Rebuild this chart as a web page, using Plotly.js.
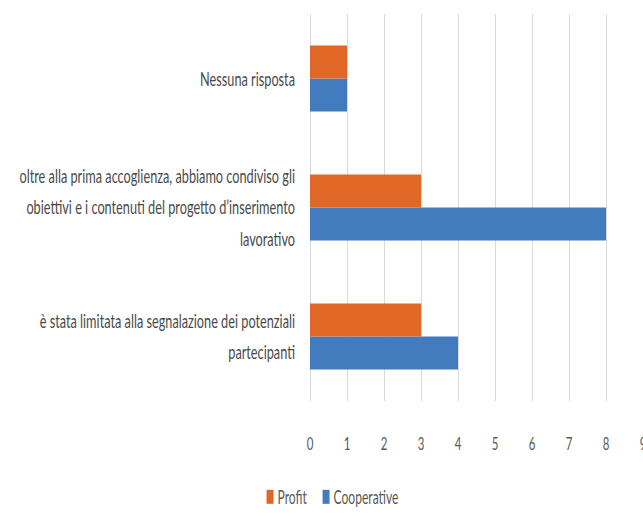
<!DOCTYPE html>
<html>
<head>
<meta charset="utf-8">
<script src="https://cdn.plot.ly/plotly-3.0.1.min.js"></script>
<style>html,body{margin:0;padding:0;background:#fff;}#chart{width:643px;height:516px;}</style>
</head>
<body>
<div id="chart"></div>
<script>
// Categories listed bottom-to-top (Plotly order)
const categories = [
  "è stata limitata alla segnalazione dei potenziali<br>partecipanti",
  "oltre alla prima accoglienza, abbiamo condiviso gli<br>obiettivi e i contenuti del progetto d’inserimento<br>lavorativo",
  "Nessuna risposta"
];
const profit = [3, 3, 1];
const cooperative = [4, 8, 1];
const xTicks = [0, 1, 2, 3, 4, 5, 6, 7, 8, 9];

const FONT = "Lato, 'Open Sans', sans-serif";

const traces = [
  {type: 'bar', orientation: 'h', name: 'Cooperative', y: categories, x: cooperative,
   marker: {color: '#427BBE'}},
  {type: 'bar', orientation: 'h', name: 'Profit', y: categories, x: profit,
   marker: {color: '#E16726'}}
];

const layout = {
  width: 643, height: 516,
  margin: {l: 310, r: 0, t: 14, b: 100},
  paper_bgcolor: '#fff', plot_bgcolor: '#fff',
  barmode: 'group', bargap: 0.487, bargroupgap: 0,
  font: {family: FONT, size: 20, color: '#595959'},
  xaxis: {
    range: [0, 9], tickvals: xTicks, ticktext: xTicks.map(String),
    showgrid: true, gridcolor: '#d9d9d9', gridwidth: 1,
    zeroline: true, zerolinecolor: '#d9d9d9', zerolinewidth: 1,
    showline: false, ticks: '', ticklabelstandoff: 30,
    ticklabeloverflow: 'allow',
    tickfont: {family: FONT, size: 18, color: '#595959'},
    automargin: false, fixedrange: true
  },
  yaxis: {
    type: 'category', range: [-0.5, 2.5],
    showgrid: false, zeroline: false, showline: false,
    ticks: '', ticklabelstandoff: 14,
    tickfont: {family: FONT, size: 20, color: '#4a4a4a'},
    automargin: false, fixedrange: true
  },
  showlegend: true,
  legend: {
    orientation: 'h', traceorder: 'reversed',
    x: -0.18, xanchor: 'left', y: -0.249, yanchor: 'middle',
    font: {family: FONT, size: 19, color: '#595959'},
    itemwidth: 30,
    bgcolor: 'rgba(0,0,0,0)'
  }
};

const LINE_PX = 32;       // spacing between lines of the category labels
const LABEL_DROP = 0;     // vertical nudge of the category labels
const REF_WIDTH = 95;     // width of the narrow label style, used to set the condensation
const LEGEND_PITCH = 56;  // distance between legend entries

const gd = document.getElementById('chart');
Plotly.newPlot(gd, traces, layout, {displayModeBar: false, staticPlot: true}).then(() => {
  let sx = 0.65;
  gd.querySelectorAll('.ytick text').forEach(t => {
    if (t.textContent === 'Nessuna risposta') sx = REF_WIDTH / t.getBBox().width;
  });
  function squeeze(t, extra) {
    const x = parseFloat(t.getAttribute('x')) || 0;
    const tr = t.getAttribute('transform') || '';
    t.setAttribute('transform', tr + ' ' + (extra || '') +
      ` translate(${x},0) scale(${sx},1) translate(${-x},0)`);
  }
  gd.querySelectorAll('.ytick text').forEach(t => {
    const lines = t.querySelectorAll('tspan.line');
    let shift = LABEL_DROP;
    if (lines.length > 1) {
      const b0 = t.getBBox();
      const c0 = b0.y + b0.height / 2;
      lines.forEach((ln, i) => ln.setAttribute('dy', String(i * LINE_PX)));
      const b1 = t.getBBox();
      shift += c0 - (b1.y + b1.height / 2);
    }
    squeeze(t, `translate(0,${shift})`);
  });
  gd.querySelectorAll('.xtick text').forEach(t => squeeze(t));
  gd.querySelectorAll('.legend .legendtext').forEach(t => squeeze(t, 'translate(-12.5,0)'));
  gd.querySelectorAll('.legend .legendpoints path').forEach(p => p.setAttribute('d', 'M-3.5,-7h7v14h-7z'));
  // compact legend entries after condensing the text
  const items = Array.from(gd.querySelectorAll('.legend .traces')).map(g => {
    const m = /translate\(\s*([-\d.]+)[ ,]\s*([-\d.]+)/.exec(g.getAttribute('transform') || '');
    return {g, x: m ? parseFloat(m[1]) : 0, y: m ? parseFloat(m[2]) : 0};
  }).sort((a, b) => a.x - b.x);
  items.forEach((it, i) => {
    if (i === 0) return;
    it.g.setAttribute('transform', `translate(${items[0].x + i * LEGEND_PITCH},${it.y})`);
  });
});
</script>
</body>
</html>
